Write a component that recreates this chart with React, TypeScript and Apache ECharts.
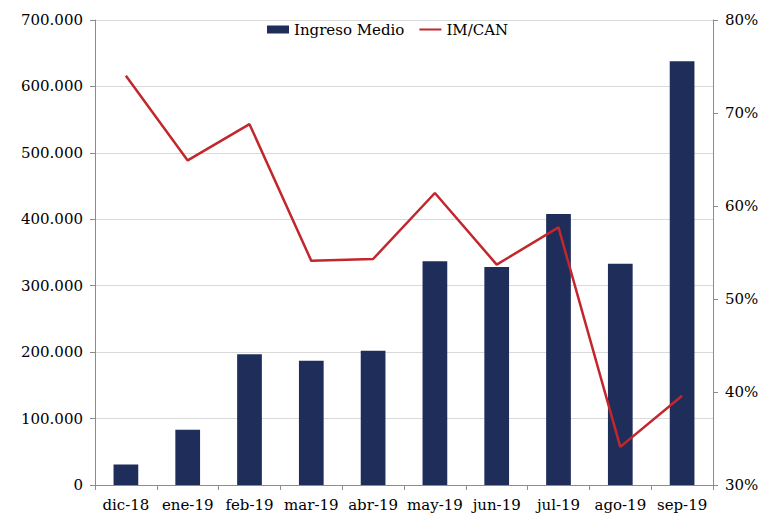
import React, { useEffect, useRef } from "react";
import * as echarts from "echarts";

const categories = ["dic-18", "ene-19", "feb-19", "mar-19", "abr-19", "may-19", "jun-19", "jul-19", "ago-19", "sep-19"];
const ingresoMedio = [31000, 83000, 197000, 187000, 202000, 337000, 328000, 408000, 333000, 638000];
const imCan = [74.0, 64.9, 68.8, 54.1, 54.3, 61.4, 53.7, 57.7, 34.1, 39.6];

const FONT = "DejaVu Serif";

function fmtThousands(v: number): string {
  return String(Math.round(v)).replace(/\B(?=(\d{3})+(?!\d))/g, ".");
}

export default function App() {
  const ref = useRef<HTMLDivElement>(null);
  useEffect(() => {
    if (!ref.current) return;
    const chart = echarts.init(ref.current, null, { renderer: "svg" });
    chart.setOption({
      animation: false,
      backgroundColor: "#ffffff",
      textStyle: { fontFamily: FONT },
      legend: {
        top: 17,
        left: 262,
        itemGap: 14,
        itemWidth: 22,
        itemHeight: 8,
        textStyle: { fontFamily: FONT, fontSize: 15, color: "#000" },
        data: [
          { name: "Ingreso Medio", icon: "rect" },
          { name: "IM/CAN", itemStyle: { opacity: 0 } },
        ],
      },
      grid: { left: 95, right: 53, top: 20, bottom: 29, containLabel: false },
      xAxis: {
        type: "category",
        data: categories,
        axisLine: { lineStyle: { color: "#8c8c8c", width: 1 } },
        axisTick: { show: true, alignWithLabel: false, length: 5, lineStyle: { color: "#8c8c8c" } },
        axisLabel: { fontFamily: FONT, fontSize: 15, color: "#000", margin: 12, interval: 0 },
      },
      yAxis: [
        {
          type: "value",
          min: 0,
          max: 700000,
          interval: 100000,
          axisLine: { show: true, lineStyle: { color: "#8c8c8c" } },
          axisTick: { show: true, length: 5, lineStyle: { color: "#8c8c8c" } },
          splitLine: { show: true, lineStyle: { color: "#d9d9d9" } },
          axisLabel: {
            fontFamily: FONT,
            fontSize: 15,
            color: "#000",
            margin: 12,
            formatter: (v: number) => fmtThousands(v),
          },
        },
        {
          type: "value",
          min: 30,
          max: 80,
          interval: 10,
          position: "right",
          axisLine: { show: true, lineStyle: { color: "#8c8c8c" } },
          axisTick: { show: true, length: 5, lineStyle: { color: "#8c8c8c" } },
          splitLine: { show: false },
          axisLabel: {
            fontFamily: FONT,
            fontSize: 15,
            color: "#000",
            margin: 12,
            formatter: (v: number) => v + "%",
          },
        },
      ],
      series: [
        {
          name: "Ingreso Medio",
          type: "bar",
          data: ingresoMedio,
          barWidth: "40%",
          itemStyle: { color: "#1f2d5a" },
          yAxisIndex: 0,
        },
        {
          name: "IM/CAN",
          type: "line",
          data: imCan,
          yAxisIndex: 1,
          symbol: "none",
          lineStyle: { color: "#c1272d", width: 2.5 },
          itemStyle: { color: "#c1272d" },
        },
      ],
    });
    return () => chart.dispose();
  }, []);
  return (
    <div
      ref={ref}
      style={{ position: "fixed", left: 0, top: 0, width: 766, height: 514, background: "#fff" }}
    />
  );
}
